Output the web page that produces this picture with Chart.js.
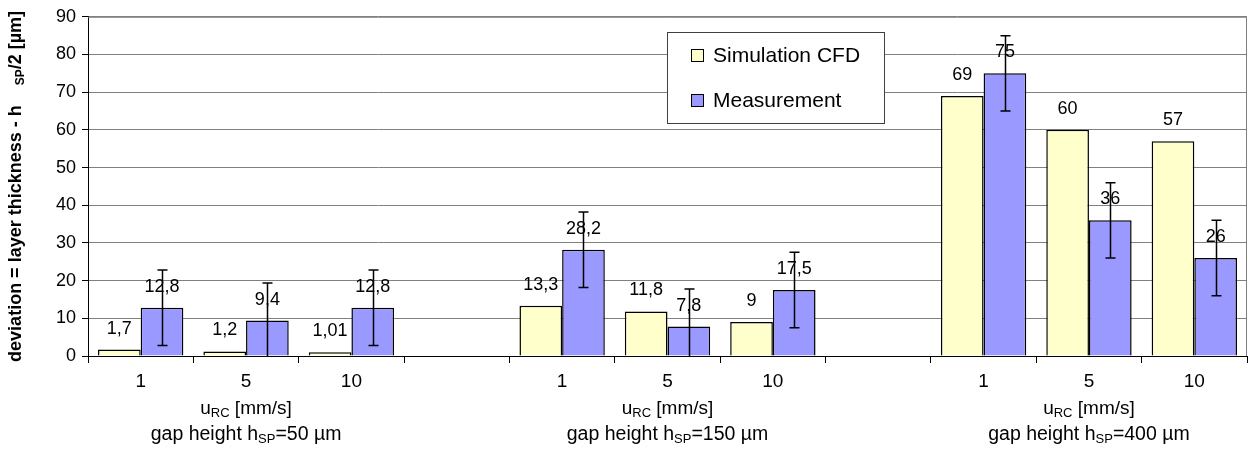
<!DOCTYPE html>
<html>
<head>
<meta charset="utf-8">
<title>Deviation chart</title>
<script src="https://cdn.jsdelivr.net/npm/chart.js"></script>
<style>
  body { margin: 0; background: #fff; }
  #wrap { width: 1248px; height: 454px; }
</style>
</head>
<body>
<div id="wrap"><canvas id="myChart" width="1248" height="454"></canvas></div>
<script>
// categories: 3 groups of u_RC values with an empty slot between groups
var speeds = ['1', '5', '10', '', '1', '5', '10', '', '1', '5', '10'];
var gapHeights = ['50', '150', '400'];
var groupCenters = [1, 5, 9];
var simulation = [1.7, 1.2, 1.01, null, 13.3, 11.8, 9, null, 69, 60, 57];
var measurement = [12.8, 9.4, 12.8, null, 28.2, 7.8, 17.5, null, 75, 36, 26];
var measErr = [10, 10, 10, null, 10, 10, 10, null, 10, 10, 10];
var yTicks = [0, 10, 20, 30, 40, 50, 60, 70, 80, 90];

var FONT = 'Arial, "Liberation Sans", sans-serif';

// draws text with subscript parts, centered on cx
function drawRich(ctx, parts, cx, cy, size, bold) {
  var w = 0;
  parts.forEach(function (p) {
    ctx.font = (bold ? 'bold ' : '') + (p.sub ? Math.round(size * 0.68) : size) + 'px ' + FONT;
    p.w = ctx.measureText(p.t).width;
    w += p.w;
  });
  var x = cx - w / 2;
  ctx.textAlign = 'left';
  ctx.textBaseline = 'alphabetic';
  parts.forEach(function (p) {
    ctx.font = (bold ? 'bold ' : '') + (p.sub ? Math.round(size * 0.68) : size) + 'px ' + FONT;
    ctx.fillText(p.t, x, cy + size * 0.35 + (p.sub ? 3 : 0));
    x += p.w;
  });
}

var extras = {
  id: 'extras',
  afterDatasetsDraw: function (chart) {
    var ctx = chart.ctx;
    var ys = chart.scales.y, xs = chart.scales.x, area = chart.chartArea;
    ctx.save();
    // plot frame top/right
    ctx.strokeStyle = '#808080';
    ctx.lineWidth = 1;
    ctx.beginPath();
    ctx.moveTo(area.left, area.top + 0.5);
    ctx.lineTo(area.right - 0.5, area.top + 0.5);
    ctx.lineTo(area.right - 0.5, area.bottom);
    ctx.stroke();

    // value labels
    ctx.fillStyle = '#000';
    ctx.font = '18px ' + FONT;
    ctx.textAlign = 'center';
    ctx.textBaseline = 'middle';
    chart.data.datasets.forEach(function (ds, di) {
      chart.getDatasetMeta(di).data.forEach(function (el, i) {
        var v = ds.data[i];
        if (v == null) return;
        ctx.fillText(String(v).replace('.', ','), el.x, el.y - 21);
      });
    });

    // error bars on measurement
    ctx.strokeStyle = '#000';
    ctx.lineWidth = 1.5;
    chart.getDatasetMeta(1).data.forEach(function (el, i) {
      var v = measurement[i];
      if (v == null) return;
      var hi = ys.getPixelForValue(v + measErr[i]);
      var lo = ys.getPixelForValue(Math.max(0, v - measErr[i]));
      var x = Math.round(el.x) + 0.5;
      ctx.beginPath();
      ctx.moveTo(x, hi); ctx.lineTo(x, lo);
      ctx.moveTo(x - 5, hi); ctx.lineTo(x + 5, hi);
      if (v - measErr[i] > 0) { ctx.moveTo(x - 5, lo); ctx.lineTo(x + 5, lo); }
      ctx.stroke();
    });

    // legend
    var lx = 667, ly = 32, lw = 217, lh = 91;
    ctx.fillStyle = '#fff';
    ctx.fillRect(lx, ly, lw, lh);
    ctx.strokeStyle = '#404040';
    ctx.lineWidth = 1;
    ctx.strokeRect(lx + 0.5, ly + 0.5, lw, lh);
    var items = [['Simulation CFD', '#FFFFCC', 55], ['Measurement', '#9999FF', 100]];
    items.forEach(function (it) {
      ctx.fillStyle = it[1];
      ctx.fillRect(691, it[2] - 6, 12, 12);
      ctx.strokeStyle = '#000';
      ctx.strokeRect(691.5, it[2] - 5.5, 12, 12);
      ctx.fillStyle = '#000';
      ctx.font = '21px ' + FONT;
      ctx.textAlign = 'left';
      ctx.textBaseline = 'middle';
      ctx.fillText(it[0], 713, it[2] + 1);
    });

    // group labels under x axis
    ctx.fillStyle = '#000';
    groupCenters.forEach(function (c, g) {
      var cx = xs.getPixelForValue(c);
      drawRich(ctx, [{ t: 'u' }, { t: 'RC', sub: true }, { t: ' [mm/s]' }], cx, 407, 19, false);
      drawRich(ctx, [{ t: 'gap height h' }, { t: 'SP', sub: true }, { t: '=' + gapHeights[g] + ' \u00b5m' }], cx, 433, 19.5, false);
    });

    // y axis title
    ctx.translate(15, (area.top + area.bottom) / 2);
    ctx.rotate(-Math.PI / 2);
    drawRich(ctx, [{ t: 'deviation = layer thickness - h    ' }, { t: 'SP', sub: true }, { t: '/2 [\u00b5m]' }], 0, 0, 18, true);
    ctx.restore();
  }
};

var ctx = document.getElementById('myChart').getContext('2d');
var myChart = new Chart(ctx, {
  type: 'bar',
  data: {
    labels: speeds,
    datasets: [{
      label: 'Simulation CFD',
      data: simulation,
      backgroundColor: '#FFFFCC',
      borderColor: '#000',
      borderWidth: 1.5
    }, {
      label: 'Measurement',
      data: measurement,
      backgroundColor: '#9999FF',
      borderColor: '#000',
      borderWidth: 1.5
    }]
  },
  options: {
    responsive: false,
    animation: false,
    devicePixelRatio: 1,
    barPercentage: 1,
    categoryPercentage: 0.81,
    layout: { padding: { top: 15, right: 1, left: 0, bottom: 0 } },
    plugins: { legend: { display: false }, tooltip: { enabled: false } },
    scales: {
      x: {
        afterFit: function (s) { s.height = 98; },
        grid: { offset: true, drawOnChartArea: false, tickLength: 7, tickColor: '#000' },
        border: { color: '#000', width: 1 },
        ticks: { color: '#000', font: { size: 19, family: FONT }, padding: 7, maxRotation: 0, autoSkip: false }
      },
      y: {
        min: 0,
        max: 90,
        afterFit: function (s) { s.width = 88; },
        afterBuildTicks: function (s) { s.ticks = yTicks.map(function (v) { return { value: v }; }); },
        grid: { color: '#808080', tickColor: '#000', tickLength: 6 },
        border: { color: '#000', width: 1 },
        ticks: { color: '#000', font: { size: 18, family: FONT }, padding: 6 }
      }
    }
  },
  plugins: [extras]
});
</script>
</body>
</html>
